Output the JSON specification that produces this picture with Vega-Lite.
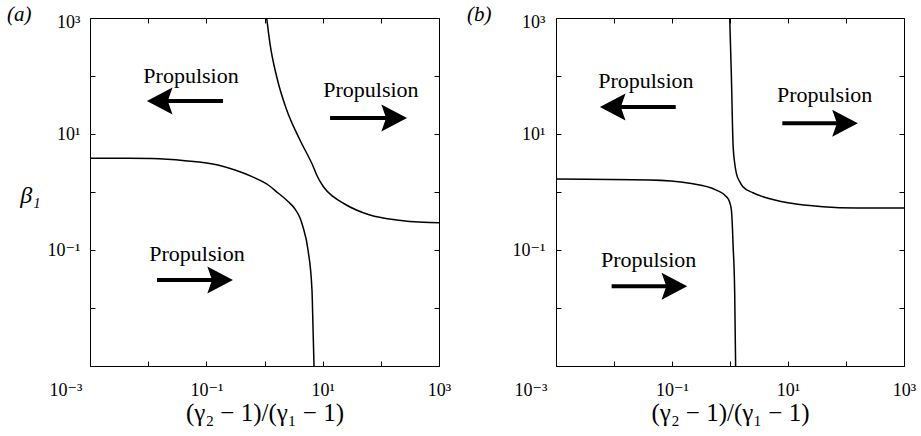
{
  "$schema": "https://vega.github.io/schema/vega-lite/v6.json",
  "autosize": {"type": "none"},
  "padding": {"left": 90, "top": 18, "right": 831, "bottom": 418},
  "spacing": 117,
  "bounds": "flush",
  "config": {
    "font": "Liberation Serif, Times New Roman, DejaVu Serif, serif",
    "view": {"stroke": "black", "strokeWidth": 1},
    "axis": {
      "domain": false, "grid": false, "ticks": true, "tickSize": -5, "tickColor": "black", "tickWidth": 1,
      "labelFont": "Liberation Serif, Times New Roman, DejaVu Serif, serif", "labelFontSize": 18, "labelColor": "black",
      "titleFont": "Liberation Serif, Times New Roman, DejaVu Serif, serif", "titleColor": "black", "titleFontWeight": "normal",
      "labelOverlap": false, "labelBound": false, "labelFlush": false
    }
  },
  "datasets": {
    "a_curves": [
      {"c": 1, "x": 0.001, "y": 3.81}, {"c": 1, "x": 0.0031, "y": 3.81}, {"c": 1, "x": 0.0115, "y": 3.77},
      {"c": 1, "x": 0.043, "y": 3.47}, {"c": 1, "x": 0.158, "y": 2.92}, {"c": 1, "x": 0.311, "y": 2.39},
      {"c": 1, "x": 0.61, "y": 1.84}, {"c": 1, "x": 1.16, "y": 1.32}, {"c": 1, "x": 1.71, "y": 0.96},
      {"c": 1, "x": 2.57, "y": 0.68}, {"c": 1, "x": 3.34, "y": 0.51}, {"c": 1, "x": 4.07, "y": 0.36},
      {"c": 1, "x": 4.59, "y": 0.249}, {"c": 1, "x": 5.6, "y": 0.1}, {"c": 1, "x": 6.55, "y": 0.0204},
      {"c": 1, "x": 6.82, "y": 0.0047}, {"c": 1, "x": 7.1, "y": 0.001},
      {"c": 2, "x": 1.09, "y": 1000}, {"c": 2, "x": 1.24, "y": 366}, {"c": 2, "x": 1.62, "y": 97},
      {"c": 2, "x": 2.41, "y": 25.9}, {"c": 2, "x": 4.07, "y": 7.88}, {"c": 2, "x": 6.9, "y": 2.73},
      {"c": 2, "x": 7.89, "y": 1.96}, {"c": 2, "x": 10.3, "y": 1.23}, {"c": 2, "x": 15.2, "y": 0.83},
      {"c": 2, "x": 22.6, "y": 0.64}, {"c": 2, "x": 65, "y": 0.4}, {"c": 2, "x": 187, "y": 0.329},
      {"c": 2, "x": 537, "y": 0.3}, {"c": 2, "x": 1000, "y": 0.296}
    ],
    "b_curves": [
      {"c": 1, "x": 0.001, "y": 1.67}, {"c": 1, "x": 0.0415, "y": 1.61}, {"c": 1, "x": 0.202, "y": 1.41},
      {"c": 1, "x": 0.58, "y": 1.08}, {"c": 1, "x": 0.867, "y": 0.83}, {"c": 1, "x": 0.98, "y": 0.68},
      {"c": 1, "x": 1.057, "y": 0.49}, {"c": 1, "x": 1.1, "y": 0.25}, {"c": 1, "x": 1.127, "y": 0.13},
      {"c": 1, "x": 1.205, "y": 0.018}, {"c": 1, "x": 1.25, "y": 0.001},
      {"c": 2, "x": 0.989, "y": 1000}, {"c": 2, "x": 1.057, "y": 97}, {"c": 2, "x": 1.127, "y": 6.9},
      {"c": 2, "x": 1.205, "y": 3.13}, {"c": 2, "x": 1.288, "y": 2.1}, {"c": 2, "x": 1.47, "y": 1.51},
      {"c": 2, "x": 1.67, "y": 1.23}, {"c": 2, "x": 2.49, "y": 0.97}, {"c": 2, "x": 3.7, "y": 0.83},
      {"c": 2, "x": 10.7, "y": 0.646}, {"c": 2, "x": 40, "y": 0.558}, {"c": 2, "x": 150, "y": 0.53},
      {"c": 2, "x": 1000, "y": 0.528}
    ],
    "a_arrows": [
      {"dir": "left", "tail": 0.193, "end": 0.0165, "tip": 0.0095, "y": 37.1},
      {"dir": "right", "tail": 13.4, "end": 162, "tip": 282, "y": 18.9},
      {"dir": "right", "tail": 0.0142, "end": 0.165, "tip": 0.287, "y": 0.0304}
    ],
    "b_arrows": [
      {"dir": "left", "tail": 0.116, "end": 0.00994, "tip": 0.00571, "y": 29.2},
      {"dir": "right", "tail": 7.98, "end": 92, "tip": 160, "y": 15.3},
      {"dir": "right", "tail": 0.0091, "end": 0.105, "tip": 0.183, "y": 0.02366}
    ],
    "a_text": [
      {"t": "Propulsion", "x": 0.0545, "y": 75.7},
      {"t": "Propulsion", "x": 67.5, "y": 43},
      {"t": "Propulsion", "x": 0.069, "y": 0.0655}
    ],
    "b_text": [
      {"t": "Propulsion", "x": 0.0354, "y": 61.4},
      {"t": "Propulsion", "x": 42.7, "y": 36.1},
      {"t": "Propulsion", "x": 0.0395, "y": 0.0515}
    ]
  },
  "hconcat": [
    {
      "width": 349, "height": 348,
      "title": {"text": "(a)", "anchor": "start", "frame": "group", "dx": -83, "dy": 29, "offset": 0, "baseline": "alphabetic", "font": "Liberation Serif, Times New Roman, DejaVu Serif, serif", "fontSize": 21, "fontWeight": "normal", "fontStyle": "italic", "color": "black"},
      "resolve": {"axis": {"x": "independent", "y": "independent"}},
      "layer": [
        {
          "data": {"name": "a_curves"},
          "mark": {"type": "line", "color": "black", "strokeWidth": 1.5, "clip": true, "interpolate": "monotone"},
          "encoding": {
            "x": {"field": "x", "type": "quantitative", "scale": {"type": "log", "domain": [0.001, 1000], "nice": false},
              "axis": {"orient": "bottom", "values": [0.001, 0.01, 0.1, 1, 10, 100, 1000],
                "labelExpr": "datum.value < 0.002 ? '10⁻³' : (datum.value > 0.05 && datum.value < 0.2) ? '10⁻¹' : (datum.value > 5 && datum.value < 20) ? '10¹' : datum.value > 500 ? '10³' : ''",
                "labelBaseline": "alphabetic", "labelPadding": 34,
                "labelAlign": {"condition": {"test": "datum.value < 0.002", "value": "right"}, "value": "center"},
                "labelOffset": {"condition": {"test": "datum.value < 0.002", "value": -8}, "value": 0},
                "title": "(γ₂ − 1)/(γ₁ − 1)", "titleFontSize": 25, "titleY": 54, "titleBaseline": "alphabetic"}},
            "y": {"field": "y", "type": "quantitative", "scale": {"type": "log", "domain": [0.001, 1000], "nice": false},
              "axis": {"orient": "left", "values": [0.001, 0.01, 0.1, 1, 10, 100, 1000],
                "labelExpr": "(datum.value > 0.05 && datum.value < 0.2) ? '10⁻¹' : (datum.value > 5 && datum.value < 20) ? '10¹' : datum.value > 500 ? '10³' : ''",
                "labelPadding": 15, "labelBaseline": "middle",
                "labelOffset": {"condition": {"test": "datum.value > 500", "value": 4}, "value": 0},
                "title": "β₁", "titleAngle": 0, "titleX": -60, "titleY": 177, "titleAlign": "center", "titleBaseline": "middle", "titleFontSize": 24, "titleFontStyle": "italic"}},
            "detail": {"field": "c"}
          }
        },
        {
          "data": {"name": "a_arrows"},
          "mark": {"type": "rule", "color": "black", "strokeWidth": 4},
          "encoding": {
            "x": {"field": "tail", "type": "quantitative", "scale": {"type": "log", "domain": [0.001, 1000], "nice": false},
              "axis": {"orient": "top", "values": [0.001, 0.01, 0.1, 1, 10, 100, 1000], "labels": false, "title": null}},
            "x2": {"field": "end"},
            "y": {"field": "y", "type": "quantitative", "scale": {"type": "log", "domain": [0.001, 1000], "nice": false},
              "axis": {"orient": "right", "values": [0.001, 0.01, 0.1, 1, 10, 100, 1000], "labels": false, "title": null}}
          }
        },
        {
          "data": {"name": "a_arrows"},
          "mark": {"type": "point", "filled": true, "color": "black", "opacity": 1, "size": 729, "strokeWidth": 0},
          "encoding": {
            "x": {"field": "tip", "type": "quantitative", "axis": null},
            "y": {"field": "y", "type": "quantitative", "axis": null},
            "shape": {"field": "dir", "type": "nominal", "legend": null,
              "scale": {"domain": ["right", "left"], "range": ["M0,0L-1.9,-1L-1.55,0L-1.9,1Z", "M0,0L1.9,-1L1.55,0L1.9,1Z"]}}
          }
        },
        {
          "data": {"name": "a_text"},
          "mark": {"type": "text", "font": "Liberation Serif, Times New Roman, DejaVu Serif, serif", "fontSize": 22, "color": "black", "align": "center", "baseline": "alphabetic"},
          "encoding": {
            "x": {"field": "x", "type": "quantitative", "axis": null},
            "y": {"field": "y", "type": "quantitative", "axis": null},
            "text": {"field": "t"}
          }
        }
      ]
    },
    {
      "width": 348, "height": 348,
      "title": {"text": "(b)", "anchor": "start", "frame": "group", "dx": -89, "dy": 29, "offset": 0, "baseline": "alphabetic", "font": "Liberation Serif, Times New Roman, DejaVu Serif, serif", "fontSize": 21, "fontWeight": "normal", "fontStyle": "italic", "color": "black"},
      "resolve": {"axis": {"x": "independent", "y": "independent"}},
      "layer": [
        {
          "data": {"name": "b_curves"},
          "mark": {"type": "line", "color": "black", "strokeWidth": 1.5, "clip": true, "interpolate": "monotone"},
          "encoding": {
            "x": {"field": "x", "type": "quantitative", "scale": {"type": "log", "domain": [0.001, 1000], "nice": false},
              "axis": {"orient": "bottom", "values": [0.001, 0.01, 0.1, 1, 10, 100, 1000],
                "labelExpr": "datum.value < 0.002 ? '10⁻³' : (datum.value > 0.05 && datum.value < 0.2) ? '10⁻¹' : (datum.value > 5 && datum.value < 20) ? '10¹' : datum.value > 500 ? '10³' : ''",
                "labelBaseline": "alphabetic", "labelPadding": 34,
                "labelAlign": {"condition": {"test": "datum.value < 0.002", "value": "right"}, "value": "center"},
                "labelOffset": {"condition": {"test": "datum.value < 0.002", "value": -9}, "value": 0},
                "title": "(γ₂ − 1)/(γ₁ − 1)", "titleFontSize": 25, "titleY": 54, "titleBaseline": "alphabetic"}},
            "y": {"field": "y", "type": "quantitative", "scale": {"type": "log", "domain": [0.001, 1000], "nice": false},
              "axis": {"orient": "left", "values": [0.001, 0.01, 0.1, 1, 10, 100, 1000],
                "labelExpr": "(datum.value > 0.05 && datum.value < 0.2) ? '10⁻¹' : (datum.value > 5 && datum.value < 20) ? '10¹' : datum.value > 500 ? '10³' : ''",
                "labelPadding": 16, "labelBaseline": "middle",
                "labelOffset": {"condition": {"test": "datum.value > 500", "value": 4}, "value": 0},
                "title": null}},
            "detail": {"field": "c"}
          }
        },
        {
          "data": {"name": "b_arrows"},
          "mark": {"type": "rule", "color": "black", "strokeWidth": 4},
          "encoding": {
            "x": {"field": "tail", "type": "quantitative", "scale": {"type": "log", "domain": [0.001, 1000], "nice": false},
              "axis": {"orient": "top", "values": [0.001, 0.01, 0.1, 1, 10, 100, 1000], "labels": false, "title": null}},
            "x2": {"field": "end"},
            "y": {"field": "y", "type": "quantitative", "scale": {"type": "log", "domain": [0.001, 1000], "nice": false},
              "axis": {"orient": "right", "values": [0.001, 0.01, 0.1, 1, 10, 100, 1000], "labels": false, "title": null}}
          }
        },
        {
          "data": {"name": "b_arrows"},
          "mark": {"type": "point", "filled": true, "color": "black", "opacity": 1, "size": 729, "strokeWidth": 0},
          "encoding": {
            "x": {"field": "tip", "type": "quantitative", "axis": null},
            "y": {"field": "y", "type": "quantitative", "axis": null},
            "shape": {"field": "dir", "type": "nominal", "legend": null,
              "scale": {"domain": ["right", "left"], "range": ["M0,0L-1.9,-1L-1.55,0L-1.9,1Z", "M0,0L1.9,-1L1.55,0L1.9,1Z"]}}
          }
        },
        {
          "data": {"name": "b_text"},
          "mark": {"type": "text", "font": "Liberation Serif, Times New Roman, DejaVu Serif, serif", "fontSize": 22, "color": "black", "align": "center", "baseline": "alphabetic"},
          "encoding": {
            "x": {"field": "x", "type": "quantitative", "axis": null},
            "y": {"field": "y", "type": "quantitative", "axis": null},
            "text": {"field": "t"}
          }
        }
      ]
    }
  ]
}
